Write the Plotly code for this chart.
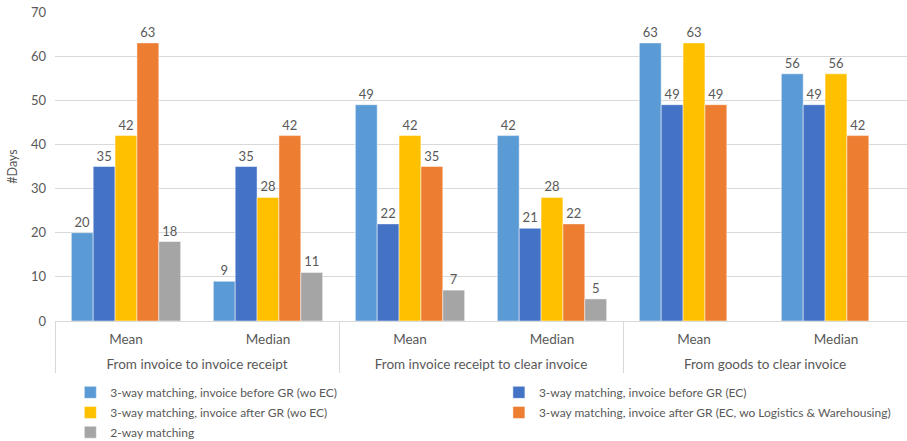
import plotly.graph_objects as go

groups = ["From invoice to invoice receipt"] * 2 + ["From invoice receipt to clear invoice"] * 2 + ["From goods to clear invoice"] * 2
stats = ["Mean", "Median", "Mean", "Median", "Mean", "Median"]
group_labels = ["From invoice to invoice receipt", "From invoice receipt to clear invoice", "From goods to clear invoice"]

series_names = [
    "3-way matching, invoice before GR (wo EC)",
    "3-way matching, invoice before GR (EC)",
    "3-way matching, invoice after GR (wo EC)",
    "3-way matching, invoice after GR (EC, wo Logistics & Warehousing)",
    "2-way matching",
]
s1 = [20, 9, 49, 42, 63, 56]
s2 = [35, 35, 22, 21, 49, 49]
s3 = [42, 28, 42, 28, 63, 56]
s4 = [63, 42, 35, 22, 49, 42]
s5 = [18, 11, 7, 5, None, None]
series_values = [s1, s2, s3, s4, s5]
colors = ["#5B9BD5", "#4472C4", "#FFC000", "#ED7D31", "#A5A5A5"]
legend_ids = ["legend", "legend2", "legend3", "legend4", "legend5"]

cat_keys = [f"{g}|{s}" for g, s in zip(groups, stats)]
n = len(cat_keys)
group_centers = [i * 2 + 0.5 for i in range(len(group_labels))]
group_bounds = [i * 2 - 0.5 for i in range(len(group_labels) + 1)]

font_family = "Lato, 'Open Sans', sans-serif"
txt = "#595959"

fig = go.Figure()
for i, (name, vals, c, lg) in enumerate(zip(series_names, series_values, colors, legend_ids)):
    fig.add_trace(go.Bar(
        x=cat_keys, y=vals, name=name, legend=lg,
        marker=dict(color=c, line=dict(color="rgba(255,255,255,0.6)", width=0.8)),
        text=[("" if v is None else str(v)) for v in vals],
        textposition="outside", cliponaxis=False,
        textfont=dict(size=13, color=txt, family=font_family),
    ))

# helper (invisible) trace so the group-label axis is drawn
fig.add_trace(go.Scatter(x=group_centers, y=[None] * len(group_centers), xaxis="x2", yaxis="y",
                         mode="markers", showlegend=False, hoverinfo="skip"))

legend_common = dict(orientation="v", yanchor="top", xanchor="left",
                     font=dict(size=12, color=txt, family=font_family),
                     itemwidth=30, bgcolor="rgba(0,0,0,0)")
col_x = [0.018, 0.521]
row_y = [-0.184, -0.249, -0.313]

fig.update_layout(
    width=907, height=441,
    margin=dict(l=55, r=0, t=12, b=120, autoexpand=False),
    barmode="group", bargap=0.23, bargroupgap=0,
    plot_bgcolor="white", paper_bgcolor="white",
    font=dict(family=font_family, size=12.5, color=txt),
    showlegend=True,
    legend=dict(x=col_x[0], y=row_y[0], **legend_common),
    legend2=dict(x=col_x[1], y=row_y[0], **legend_common),
    legend3=dict(x=col_x[0], y=row_y[1], **legend_common),
    legend4=dict(x=col_x[1], y=row_y[1], **legend_common),
    legend5=dict(x=col_x[0], y=row_y[2], **legend_common),
    xaxis=dict(type="category", categoryorder="array", categoryarray=cat_keys,
               range=[-0.5, n - 0.5],
               tickmode="array", tickvals=cat_keys, ticktext=stats,
               showline=True, linecolor="#D9D9D9", linewidth=1, ticks="",
               showgrid=False, ticklabelstandoff=6,
               tickfont=dict(size=13.5, color=txt)),
    xaxis2=dict(type="linear", overlaying="x", anchor="y", side="bottom",
                range=[-0.5, n - 0.5], showgrid=False, zeroline=False,
                tickmode="array", tickvals=group_centers, ticktext=group_labels,
                ticks="", ticklabelstandoff=33, showline=False,
                tickfont=dict(size=13.5, color=txt),
                minor=dict(tickmode="array", tickvals=group_bounds, ticks="outside",
                           ticklen=51, tickcolor="#D9D9D9", tickwidth=1, showgrid=False)),
)
fig.update_yaxes(range=[0, 70], dtick=10, showgrid=True, gridcolor="#D9D9D9", gridwidth=1,
                 zeroline=False, showline=False, ticklabelstandoff=8,
                 title=dict(text="#Days", font=dict(size=12.5, color=txt), standoff=10),
                 tickfont=dict(size=13, color=txt), ticks="")

fig.write_html("out.html")
